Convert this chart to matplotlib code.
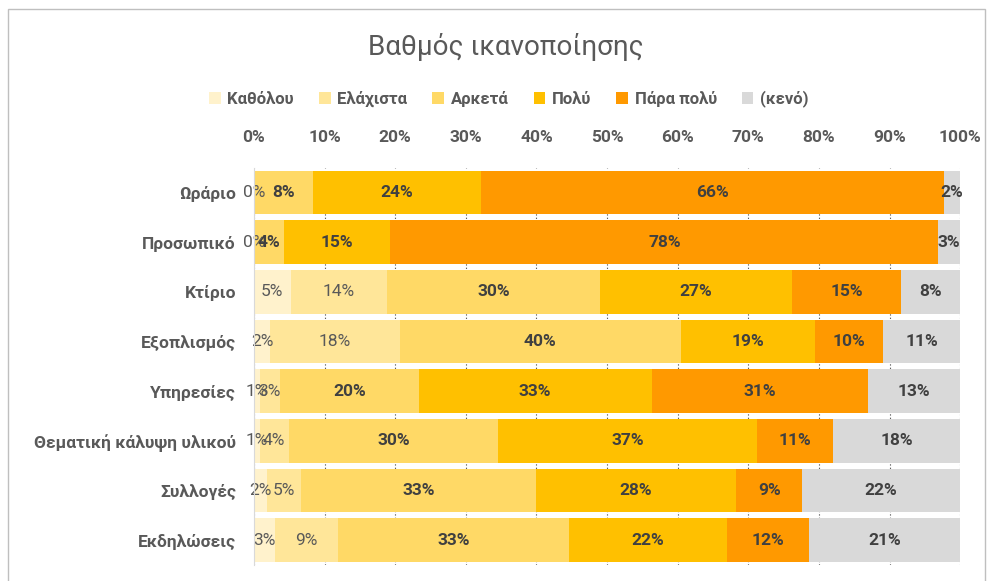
import numpy as np
import matplotlib
matplotlib.use("Agg")
import matplotlib.pyplot as plt
from matplotlib.patches import Rectangle
import matplotlib.ticker as mtick

plt.rcParams['font.family'] = ['Roboto', 'DejaVu Sans']

# data (percent of answers per category)
categories = ['Ωράριο', 'Προσωπικό', 'Κτίριο', 'Εξοπλισμός', 'Υπηρεσίες',
              'Θεματική κάλυψη υλικού', 'Συλλογές', 'Εκδηλώσεις']
series = ['Καθόλου', 'Ελάχιστα', 'Αρκετά', 'Πολύ', 'Πάρα πολύ', '(κενό)']
katholou = [0.0, 0.0, 5.2, 2.3, 0.8, 0.8, 1.8, 3.0]
elaxista = [np.nan, np.nan, 13.6, 18.4, 2.9, 4.1, 4.9, 8.9]
arketa = [8.4, 4.2, 30.2, 39.7, 19.6, 29.7, 33.2, 32.7]
poly = [23.7, 15.1, 27.2, 19.1, 33.0, 36.6, 28.4, 22.4]
para_poly = [65.6, 77.6, 15.4, 9.6, 30.6, 10.8, 9.3, 11.6]
keno = [2.3, 3.1, 8.4, 10.9, 13.1, 18.0, 22.4, 21.4]
values = [katholou, elaxista, arketa, poly, para_poly, keno]
colors = ['#FFF2CC', '#FFE699', '#FFD966', '#FFC000', '#FF9900', '#D9D9D9']

fig = plt.figure(figsize=(9.92, 5.81), dpi=100)
ax = fig.add_axes([0.256, 0.0275, 0.712, 0.684])

y = np.arange(len(categories))
left = np.zeros(len(categories))
for i, (name, vals, c) in enumerate(zip(series, values, colors)):
    vals = np.array(vals, dtype=float)
    w = np.nan_to_num(vals)
    ax.barh(y, w, left=left, height=0.88, color=c, label=name, zorder=2)
    for j in range(len(categories)):
        if np.isnan(vals[j]):
            continue
        xc = left[j] + w[j] / 2
        if i < 2:
            ax.text(xc, y[j], f"{vals[j]:.0f}%", ha='center', va='center',
                    fontsize=12.5, color='#595959', zorder=3)
        else:
            ax.text(xc, y[j], f"{vals[j]:.0f}%", ha='center', va='center',
                    fontsize=12.5, color='#404040', fontweight='bold', zorder=3)
    left += w

ax.set_xlim(0, 100)
ax.set_ylim(len(categories) - 0.5, -0.5)
ax.xaxis.tick_top()
ax.xaxis.set_major_locator(mtick.MultipleLocator(10))
ax.xaxis.set_major_formatter(mtick.PercentFormatter(decimals=0))
ax.tick_params(axis='x', length=0, pad=16, labelsize=12.5, labelcolor='#595959')
ax.tick_params(axis='y', length=0, pad=13, labelsize=12.5, labelcolor='#595959')
for lab in ax.get_xticklabels():
    lab.set_fontweight('bold')
ax.set_yticks(y)
ax.set_yticklabels(categories, fontweight='bold')
ax.grid(axis='x', color='#404040', linestyle=(0, (1, 2)), linewidth=0.8, zorder=1)
for s in ['top', 'right', 'bottom']:
    ax.spines[s].set_visible(False)
ax.spines['left'].set_color('#D9D9D9')
ax.spines['left'].set_zorder(4)

fig.text(0.51, 0.919, 'Βαθμός ικανοποίησης', ha='center', va='center',
         fontsize=20, color='#595959')
leg = fig.legend(loc='center', bbox_to_anchor=(0.513, 0.83), ncol=6, frameon=False,
                 handlelength=0.7, handleheight=0.7, handletextpad=0.4,
                 columnspacing=1.5, fontsize=12)
for t in leg.get_texts():
    t.set_color('#595959')
    t.set_fontweight('bold')

fig.patches.append(Rectangle((8 / 992, -0.01), 977 / 992, 1 - 9 / 581 + 0.01,
                             transform=fig.transFigure, fill=False,
                             edgecolor='#BFBFBF', linewidth=1))

fig.savefig('out.png', dpi=100)
